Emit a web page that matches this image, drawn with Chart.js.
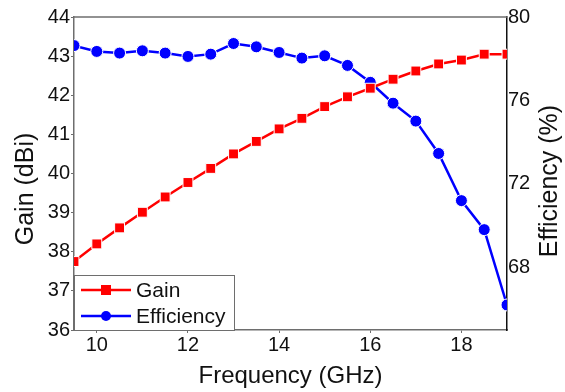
<!DOCTYPE html>
<html>
<head>
<meta charset="utf-8">
<script src="https://cdn.jsdelivr.net/npm/chart.js@4.4.1/dist/chart.umd.min.js"></script>
<style>
  html, body { margin: 0; padding: 0; background: #fff; }
  #wrap { width: 565px; height: 392px; position: relative; }
</style>
</head>
<body>
<div id="wrap"><canvas id="gainChart"></canvas></div>
<script>
// ===== DATA =====
const freqGHz    = [9.5, 10, 10.5, 11, 11.5, 12, 12.5, 13, 13.5, 14, 14.5, 15, 15.5, 16, 16.5, 17, 17.5, 18, 18.5, 19];
const gainDBi    = [37.75, 38.2, 38.61, 39.01, 39.4, 39.77, 40.13, 40.5, 40.82, 41.14, 41.41, 41.71, 41.96, 42.18, 42.41, 42.62, 42.8, 42.9, 43.05, 43.05];
const efficiency = [78.63, 78.35, 78.27, 78.38, 78.27, 78.11, 78.22, 78.73, 78.57, 78.3, 78.03, 78.14, 77.68, 76.87, 75.87, 75.01, 73.46, 71.2, 69.81, 66.2];
const freqTicks  = [10, 12, 14, 16, 18];
const effTicks   = [68, 72, 76, 80];

const FONT = '"Liberation Sans", Arial, sans-serif';
const AXIS_GREY = '#6e6e6e';

const toXY = (ys) => ys.map((y, i) => ({ x: freqGHz[i], y }));

function vText(ctx, text, x, y) {
  ctx.save();
  ctx.translate(x, y);
  ctx.rotate(-Math.PI / 2);
  ctx.fillStyle = '#111';
  ctx.font = `25px ${FONT}`;
  ctx.textAlign = 'center';
  ctx.textBaseline = 'middle';
  ctx.fillText(text, 0, 0);
  ctx.restore();
}

// top frame line, rotated y titles, legend box inside the plot
const extras = {
  id: 'extras',
  afterDraw(chart) {
    const { ctx, chartArea: a } = chart;
    ctx.save();
    ctx.strokeStyle = AXIS_GREY;
    ctx.lineWidth = 1.5;
    ctx.beginPath();
    ctx.moveTo(a.left, a.top);
    ctx.lineTo(a.right, a.top);
    ctx.stroke();
    ctx.restore();

    vText(ctx, 'Gain (dBi)', 26, 189);
    vText(ctx, 'Efficiency (%)', 550, 181);

    // Legend
    ctx.save();
    const bx = a.left, by = 275, bw = 160, bh = a.bottom - 275;
    ctx.fillStyle = '#fff';
    ctx.fillRect(bx, by, bw, bh);
    ctx.strokeStyle = AXIS_GREY;
    ctx.lineWidth = 1;
    ctx.strokeRect(bx + 0.5, by + 0.5, bw, bh);
    const rows = [290, 316];
    chart.data.datasets.forEach((ds, i) => {
      const cy = rows[i];
      ctx.strokeStyle = ds.borderColor;
      ctx.lineWidth = ds.borderWidth;
      ctx.beginPath();
      ctx.moveTo(81, cy);
      ctx.lineTo(131, cy);
      ctx.stroke();
      ctx.fillStyle = ds.borderColor;
      if (ds.pointStyle === 'rect') {
        ctx.fillRect(101, cy - 5, 10, 10);
      } else {
        ctx.beginPath();
        ctx.arc(106, cy, 5, 0, Math.PI * 2);
        ctx.fill();
      }
      ctx.fillStyle = '#111';
      ctx.font = `21px ${FONT}`;
      ctx.textBaseline = 'middle';
      ctx.fillText(ds.label, 136, cy + 1);
    });
    ctx.restore();
  }
};

new Chart(document.getElementById('gainChart'), {
  type: 'line',
  data: {
    datasets: [
      {
        label: 'Gain',
        data: toXY(gainDBi),
        yAxisID: 'y',
        borderColor: '#ff0000',
        backgroundColor: '#ff0000',
        borderWidth: 2.5,
        pointStyle: 'rect',
        pointRadius: 7,
        pointBorderColor: '#fff',
        pointBorderWidth: 1,
        tension: 0,
      },
      {
        label: 'Efficiency',
        data: toXY(efficiency),
        yAxisID: 'y1',
        borderColor: '#0000ff',
        backgroundColor: '#0000ff',
        borderWidth: 2.5,
        pointStyle: 'circle',
        pointRadius: 6,
        pointBorderColor: '#fff',
        pointBorderWidth: 1,
        tension: 0,
      }
    ]
  },
  options: {
    responsive: true,
    maintainAspectRatio: false,
    animation: false,
    layout: { padding: { top: 17, left: 0, right: 0, bottom: 0 } },
    plugins: { legend: { display: false }, tooltip: { enabled: false } },
    scales: {
      x: {
        type: 'linear',
        min: 9.5, max: 19,
        afterBuildTicks: s => { s.ticks = freqTicks.map(v => ({ value: v })); },
        afterFit: s => { s.height = 62; },
        ticks: { color: '#111', font: { family: FONT, size: 20 }, padding: 0, maxRotation: 0 },
        grid: { drawOnChartArea: false, tickLength: 3, color: AXIS_GREY },
        border: { color: AXIS_GREY, width: 1.5 },
        title: { display: true, text: 'Frequency (GHz)', color: '#111', font: { family: FONT, size: 24 }, padding: { top: 4, bottom: 1 } },
      },
      y: {
        position: 'left',
        min: 36, max: 44,
        afterFit: s => { s.width = 74; },
        ticks: { stepSize: 1, color: '#111', font: { family: FONT, size: 20 }, padding: 1 },
        grid: { drawOnChartArea: false, tickLength: 3, color: AXIS_GREY },
        border: { color: AXIS_GREY, width: 1.5 },
      },
      y1: {
        position: 'right',
        min: 65, max: 80,
        afterBuildTicks: s => { s.ticks = effTicks.map(v => ({ value: v })); },
        afterFit: s => { s.width = 58; },
        ticks: { color: '#111', font: { family: FONT, size: 20 }, padding: 1 },
        grid: { drawOnChartArea: false, drawTicks: false },
        border: { color: '#111', width: 1.5 },
      }
    }
  },
  plugins: [extras]
});
</script>
</body>
</html>
